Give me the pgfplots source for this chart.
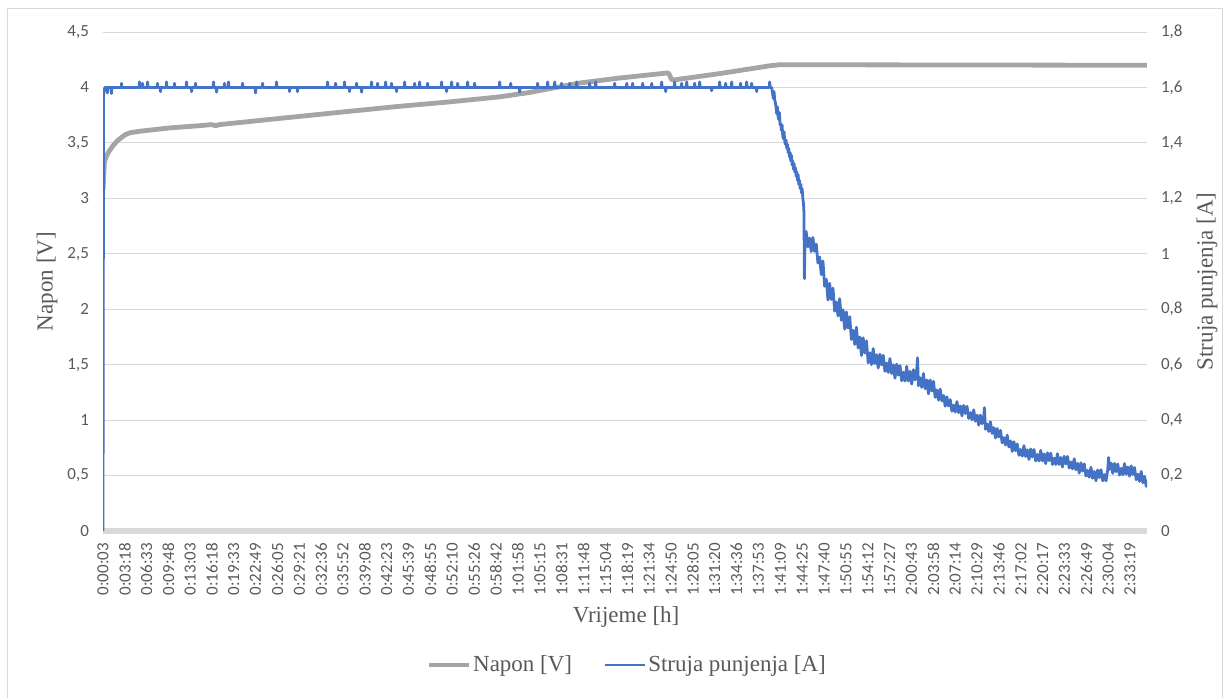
\documentclass[border=0pt]{standalone}
\usepackage{fontspec}
\setmainfont{Liberation Serif}
\newfontfamily\tickfont{Carlito}
\usepackage{pgfplots}
\usepackage{pgfplotstable}
\pgfplotsset{compat=1.18}
\definecolor{tc}{HTML}{595959}
\definecolor{gridc}{HTML}{D9D9D9}
\definecolor{napon}{HTML}{A5A5A5}
\definecolor{struja}{HTML}{4472C4}

\pgfplotstableread{
s V
3 3.07
16 3.33
34 3.38
61 3.43
97 3.48
133 3.52
169 3.55
205 3.575
240 3.59
330 3.605
599 3.635
867 3.655
975 3.665
1011 3.655
1047 3.665
1674 3.73
2211 3.785
2659 3.83
3107 3.87
3554 3.915
3823 3.955
4271 4.04
4629 4.085
5050 4.13
5068 4.13
5095 4.07
5131 4.07
5525 4.125
5973 4.195
6062 4.205
9351 4.20
}\napontab

\pgfplotstableread{
s I
3 0
8 1.57
14 1.59
20 1.60
39 1.60
43 1.580
47 1.60
75 1.60
79 1.578
83 1.60
165 1.60
169 1.615
173 1.60
326 1.60
330 1.620
334 1.60
353 1.60
357 1.615
361 1.60
398 1.60
402 1.620
406 1.60
487 1.60
491 1.615
495 1.60
514 1.60
518 1.585
522 1.60
568 1.60
572 1.620
576 1.60
639 1.60
643 1.615
647 1.60
747 1.60
751 1.620
755 1.60
792 1.60
796 1.585
800 1.60
828 1.60
832 1.615
836 1.60
989 1.60
993 1.620
997 1.60
1016 1.60
1020 1.583
1024 1.60
1087 1.60
1091 1.615
1095 1.60
1123 1.60
1127 1.620
1131 1.60
1249 1.60
1253 1.615
1257 1.60
1365 1.60
1369 1.580
1373 1.60
1428 1.60
1432 1.615
1436 1.60
1553 1.60
1557 1.620
1561 1.60
1670 1.60
1674 1.585
1678 1.60
1741 1.60
1745 1.585
1749 1.60
2010 1.60
2014 1.620
2018 1.60
2082 1.60
2086 1.615
2090 1.60
2162 1.60
2166 1.620
2170 1.60
2207 1.60
2211 1.585
2215 1.60
2270 1.60
2274 1.615
2278 1.60
2315 1.60
2319 1.583
2323 1.60
2404 1.60
2408 1.620
2412 1.60
2458 1.60
2462 1.615
2466 1.60
2530 1.60
2534 1.620
2538 1.60
2583 1.60
2587 1.615
2591 1.60
2628 1.60
2632 1.585
2636 1.60
2700 1.60
2704 1.620
2708 1.60
2790 1.60
2794 1.615
2798 1.60
2834 1.60
2838 1.620
2842 1.60
2906 1.60
2910 1.615
2914 1.60
3031 1.60
3035 1.620
3039 1.60
3076 1.60
3080 1.585
3084 1.60
3121 1.60
3125 1.620
3129 1.60
3175 1.60
3179 1.615
3183 1.60
3264 1.60
3268 1.620
3272 1.60
3327 1.60
3331 1.615
3335 1.60
3551 1.60
3555 1.620
3559 1.60
3650 1.60
3654 1.615
3658 1.60
3730 1.60
3734 1.583
3738 1.60
3891 1.60
3895 1.615
3899 1.60
3981 1.60
3985 1.620
3989 1.60
4044 1.60
4048 1.620
4052 1.60
4106 1.60
4110 1.615
4114 1.60
4178 1.60
4182 1.615
4186 1.60
4241 1.60
4245 1.620
4249 1.60
4357 1.60
4361 1.615
4365 1.60
4411 1.60
4415 1.620
4419 1.60
4581 1.60
4585 1.615
4589 1.60
4689 1.60
4693 1.615
4697 1.60
4742 1.60
4746 1.615
4750 1.60
4832 1.60
4836 1.615
4840 1.60
4913 1.60
4917 1.615
4921 1.60
5002 1.60
5006 1.620
5010 1.60
5038 1.60
5042 1.585
5046 1.60
5118 1.60
5122 1.620
5126 1.60
5181 1.60
5185 1.615
5189 1.60
5226 1.60
5230 1.620
5234 1.60
5297 1.60
5301 1.615
5305 1.60
5342 1.60
5346 1.620
5350 1.60
5449 1.60
5453 1.588
5457 1.60
5521 1.60
5525 1.620
5529 1.60
5575 1.60
5579 1.615
5583 1.60
5629 1.60
5633 1.620
5637 1.60
5709 1.60
5713 1.615
5717 1.60
5763 1.60
5767 1.620
5771 1.60
5808 1.60
5812 1.615
5816 1.60
5853 1.60
5857 1.585
5861 1.60
5969 1.60
5973 1.620
5977 1.60
5991 1.600
5995 1.590
6000 1.575
6006 1.560
6012 1.585
6018 1.555
6024 1.545
6030 1.530
6036 1.505
6042 1.530
6048 1.495
6054 1.485
6060 1.510
6066 1.465
6072 1.470
6078 1.445
6084 1.465
6090 1.425
6096 1.415
6102 1.440
6108 1.405
6114 1.395
6120 1.410
6126 1.380
6132 1.395
6138 1.365
6144 1.380
6150 1.350
6156 1.365
6162 1.335
6168 1.355
6174 1.320
6180 1.335
6186 1.305
6192 1.325
6198 1.295
6204 1.310
6210 1.280
6216 1.295
6222 1.265
6228 1.285
6234 1.250
6240 1.265
6246 1.235
6252 1.250
6258 1.220
6264 1.235
6270 1.200
6276 1.180
6280 1.150
6284 0.910
6290 1.060
6300 1.080
6315 1.025
6330 1.057
6345 1.008
6360 1.059
6375 1.009
6390 1.035
6405 0.967
6420 0.988
6435 0.925
6450 0.974
6465 0.883
6480 0.908
6495 0.833
6510 0.894
6525 0.835
6540 0.876
6555 0.793
6570 0.826
6585 0.776
6600 0.838
6615 0.760
6630 0.798
6645 0.728
6660 0.790
6675 0.732
6690 0.773
6705 0.691
6720 0.724
6735 0.673
6750 0.735
6765 0.660
6780 0.700
6795 0.633
6810 0.697
6825 0.642
6840 0.686
6855 0.607
6870 0.643
6885 0.600
6900 0.658
6915 0.604
6930 0.636
6945 0.588
6960 0.638
6975 0.599
6990 0.634
7005 0.576
7020 0.606
7035 0.572
7050 0.622
7065 0.568
7080 0.600
7095 0.551
7110 0.602
7125 0.562
7140 0.597
7155 0.542
7170 0.573
7185 0.541
7200 0.594
7215 0.541
7230 0.576
7245 0.530
7260 0.582
7275 0.545
7290 0.582
7297 0.625
7305 0.524
7320 0.553
7335 0.518
7350 0.568
7365 0.513
7380 0.545
7395 0.495
7410 0.545
7425 0.505
7440 0.540
7455 0.482
7470 0.509
7485 0.472
7500 0.512
7515 0.469
7530 0.489
7545 0.450
7560 0.484
7575 0.451
7590 0.474
7605 0.432
7620 0.454
7635 0.429
7650 0.467
7665 0.427
7680 0.451
7695 0.415
7710 0.453
7725 0.424
7740 0.450
7755 0.406
7770 0.427
7785 0.401
7800 0.437
7815 0.396
7830 0.418
7845 0.382
7860 0.418
7875 0.387
7890 0.411
7896 0.445
7905 0.367
7920 0.386
7935 0.359
7950 0.394
7965 0.352
7980 0.373
7995 0.336
8010 0.370
8025 0.339
8040 0.363
8055 0.318
8070 0.337
8085 0.310
8100 0.346
8115 0.303
8130 0.325
8145 0.287
8160 0.322
8175 0.290
8190 0.314
8205 0.273
8220 0.294
8235 0.270
8250 0.308
8265 0.269
8280 0.293
8295 0.258
8310 0.296
8325 0.267
8340 0.294
8355 0.253
8370 0.276
8385 0.253
8400 0.291
8415 0.253
8430 0.278
8445 0.243
8460 0.282
8475 0.254
8490 0.281
8505 0.240
8520 0.263
8535 0.240
8550 0.279
8565 0.240
8580 0.265
8595 0.231
8610 0.270
8625 0.242
8640 0.269
8655 0.227
8670 0.249
8685 0.224
8700 0.261
8715 0.221
8730 0.244
8745 0.209
8760 0.246
8775 0.216
8790 0.242
8805 0.198
8820 0.219
8835 0.194
8850 0.230
8865 0.190
8880 0.215
8895 0.181
8910 0.220
8925 0.193
8940 0.221
8955 0.181
8970 0.204
8985 0.181
9000 0.220
9008 0.265
9015 0.222
9030 0.245
9045 0.208
9060 0.244
9075 0.214
9090 0.242
9105 0.202
9120 0.226
9135 0.203
9150 0.243
9165 0.205
9180 0.231
9195 0.198
9210 0.235
9225 0.204
9240 0.229
9255 0.185
9270 0.205
9285 0.179
9300 0.215
9315 0.174
9330 0.197
9345 0.161
9350 0.185
}\strujatab

\pgfplotsset{
  common/.style={
    at={(77.25pt,-398.25pt)}, anchor=south west,
    scale only axis, width=783pt, height=374.25pt,
    xmin=3, xmax=9352,
    tick style={draw=none}, major tick length=0pt,
    tick label style={font=\tickfont\fontsize{12.75}{15}\selectfont, text=tc},
    /pgf/number format/assume math mode=true,
    /pgf/number format/use comma,
    /pgf/number format/1000 sep={},
    label style={font=\fontsize{17.25}{20}\selectfont, text=tc},
  }
}

\begin{document}
\begin{tikzpicture}
\useasboundingbox (0,0) rectangle (923.25pt,-522.75pt);
\draw[gridc, line width=0.75pt] (5.25pt,-530pt) -- (5.25pt,-6pt) -- (916.5pt,-6pt) -- (916.5pt,-530pt);

\begin{axis}[common,
  ymin=0, ymax=4.5,
  ytick={0,0.5,1,1.5,2,2.5,3,3.5,4,4.5},
  axis y line*=left, axis x line*=bottom,
  y axis line style={draw=none},
  x axis line style={draw=gridc, line width=4.5pt},
  ymajorgrids, grid style={draw=gridc, line width=0.75pt},
  xtick={3,198,393,588,783,978,1173,1369,1565,1761,1956,2152,2348,2543,2739,2935,3130,3326,3522,3718,3915,4111,4308,4504,4699,4894,5090,5285,5480,5676,5873,6069,6265,6460,6655,6852,7047,7243,7438,7634,7829,8026,8222,8417,8613,8809,9004,9199},
  xticklabels={0:00:03,0:03:18,0:06:33,0:09:48,0:13:03,0:16:18,0:19:33,0:22:49,0:26:05,0:29:21,0:32:36,0:35:52,0:39:08,0:42:23,0:45:39,0:48:55,0:52:10,0:55:26,0:58:42,1:01:58,1:05:15,1:08:31,1:11:48,1:15:04,1:18:19,1:21:34,1:24:50,1:28:05,1:31:20,1:34:36,1:37:53,1:41:09,1:44:25,1:47:40,1:50:55,1:54:12,1:57:27,2:00:43,2:03:58,2:07:14,2:10:29,2:13:46,2:17:02,2:20:17,2:23:33,2:26:49,2:30:04,2:33:19},
  xticklabel style={yshift=-5.5pt, rotate=90, anchor=east},
  yticklabel style={xshift=-7pt},
  xlabel={Vrijeme [h]},
  xlabel style={at={(axis description cs:0.501,-0.1723)}, anchor=center},
  ylabel={Napon [V]},
  ylabel style={at={(axis description cs:-0.0536,0.5)}, anchor=center},
]
\addplot[napon, line width=3.6pt, line join=round] table[x=s, y=V] {\napontab};
\end{axis}

\begin{axis}[common,
  ymin=0, ymax=1.8,
  ytick={0,0.2,0.4,0.6,0.8,1,1.2,1.4,1.6,1.8},
  axis y line*=right, y axis line style={draw=none},
  axis x line=none,
  yticklabel style={xshift=7pt},
  ylabel={Struja punjenja [A]},
  ylabel style={at={(axis description cs:1.0575,0.5)}, anchor=center},
  legend style={at={(axis description cs:0.502,-0.2685)}, anchor=center,
    draw=none, fill=none, legend columns=2,
    font=\fontsize{17.25}{20}\selectfont, text=tc,
    nodes={inner sep=1.5pt},
    /tikz/every even column/.append style={column sep=22pt}},
  legend image code/.code={\draw[#1] (0pt,0pt) -- (30pt,0pt);},
]
\addlegendimage{napon, line width=3.6pt}
\addlegendentry{Napon [V]}
\addplot[struja, line width=2.1pt, line join=round] table[x=s, y=I] {\strujatab};
\addlegendentry{Struja punjenja [A]}
\end{axis}
\end{tikzpicture}
\end{document}
